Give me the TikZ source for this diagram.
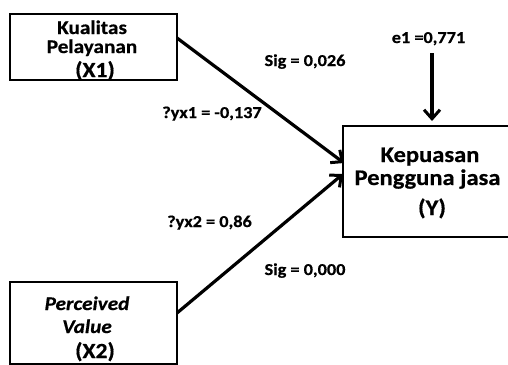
\documentclass[tikz,border=0pt]{standalone}
\usepackage{fontspec}
\setmainfont{Carlito}[FakeStretch=1.1, BoldFeatures={FakeBold=0.6}, BoldItalicFeatures={FakeBold=0.6}]
\usetikzlibrary{arrows.meta}
\tikzset{
  box/.style={draw=black, line width=2pt},
  conn/.style={line width=3.2pt, -{Straight Barb[length=9pt,width=16pt,line width=3pt]}},
  lbl/.style={anchor=base, inner sep=0pt, font=\bfseries\fontsize{16.6}{18}\selectfont},
  xtxt/.style={anchor=base, inner sep=0pt, font=\bfseries\fontsize{19.3}{20}\selectfont},
  xbig/.style={anchor=base, inner sep=0pt, font=\bfseries\fontsize{21.5}{22}\selectfont},
  ytxt/.style={anchor=base, inner sep=0pt, font=\bfseries\fontsize{22.3}{24}\selectfont},
}
\begin{document}
\begin{tikzpicture}[x=1pt,y=-1pt]
\useasboundingbox (0,0) rectangle (508,364);
\clip (0,0) rectangle (508,364);
% boxes
\draw[box] (10,14) rectangle (177,80);
\node[inner sep=0pt, minimum width=167pt, minimum height=66pt] (x1) at (93.5,47) {};
\draw[box] (10,282) rectangle (177,364);
\node[inner sep=0pt, minimum width=167pt, minimum height=82pt] (x2) at (93.5,323) {};
\draw[box] (343,126) rectangle (512,237);
\node[inner sep=0pt, minimum width=169pt, minimum height=111pt] (y) at (427.5,181.5) {};
% texts
\node[xtxt] (t1) at (92,34) {Kualitas};
\node[xtxt] (t2) at (92,53) {Pelayanan};
\node[xbig] (t3) at (95,77) {(X1)};
\node[xtxt] (t4) at (87,310) {\itshape Perceived};
\node[xtxt] (t5) at (87,333) {\itshape Value};
\node[xbig] (t6) at (95,358) {(X2)};
\node[ytxt] (t7) at (430,162) {Kepuasan};
\node[ytxt] (t8) at (427.5,185) {Pengguna jasa};
\node[ytxt] (t9) at (432,215) {(Y)};
% labels
\node[lbl] (s1) at (305,66) {Sig = 0,026};
\node[lbl] (b1) at (212,118) {?yx1 = -0,137};
\node[lbl] (b2) at (209.5,227) {?yx2 = 0,86};
\node[lbl] (s2) at (305,275) {Sig = 0,000};
\node[lbl] (e1) at (428.5,43) {e1 =0,771};
% connectors
\coordinate (a1) at (177,38);
\coordinate (a1e) at (344,163);
\coordinate (a2) at (177,313);
\coordinate (a2e) at (343,174);
\coordinate (e1s) at (432,53);
\coordinate (e1e) at (432,121);
\draw[conn] (a1) -- (a1e);
\draw[conn] (a2) -- (a2e);
\draw[conn] (e1s) -- (e1e);
\end{tikzpicture}
\end{document}
